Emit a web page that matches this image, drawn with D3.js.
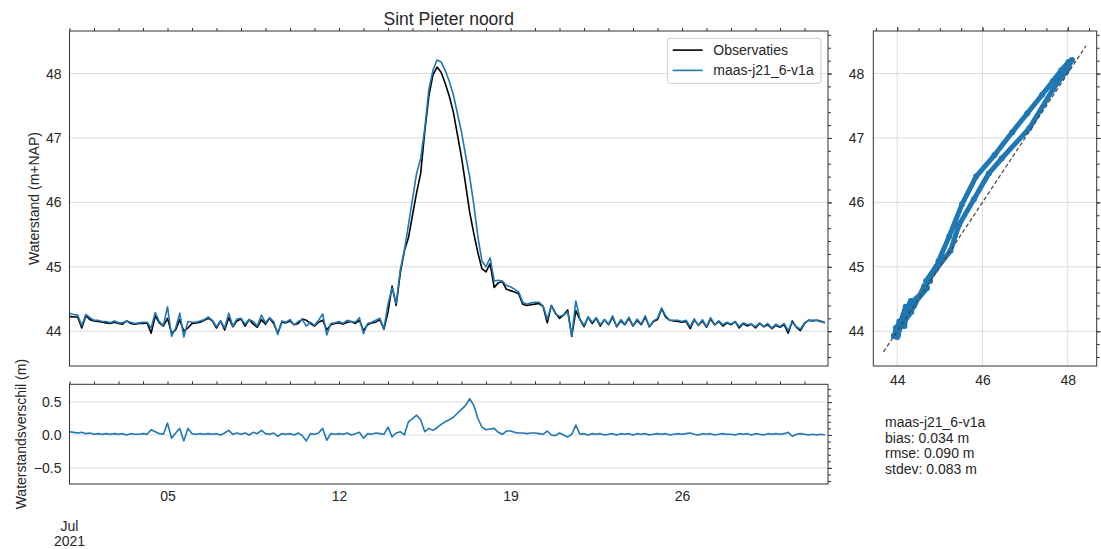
<!DOCTYPE html>
<html>
<head>
<meta charset="utf-8">
<script src="https://cdn.jsdelivr.net/npm/d3@7"></script>
<style>
  body { margin: 0; background: #fff; }
  svg { font-family: "Liberation Sans", Arial, sans-serif; }
</style>
</head>
<body>
<svg></svg>
<script>
/*
*  DATA
*/
let title = 'Sint Pieter noord'
let seriesNames = ['Observaties', 'maas-j21_6-v1a']
let startTime = new Date(2021, 6, 1)
let stepHours = 4

// waterlevel (m+NAP), one value every 4 hours from 1 July 00:00
let obs = [
  44.23, 44.22, 44.22, 44.05, 44.24, 44.18,
  44.16, 44.15, 44.14, 44.13, 44.12, 44.14,
  44.12, 44.11, 44.16, 44.12, 44.11, 44.12,
  44.12, 44.13, 43.97, 44.24, 44.13, 44.08,
  44.20, 43.97, 44.02, 44.18, 44.00, 44.05,
  44.12, 44.13, 44.14, 44.17, 44.20, 44.16,
  44.05, 44.16, 44.02, 44.21, 44.07, 44.16,
  44.19, 44.08, 44.18, 44.11, 44.06, 44.18,
  44.11, 44.20, 44.12, 43.97, 44.14, 44.13,
  44.16, 44.10, 44.12, 44.19, 44.17, 44.12,
  44.08, 44.14, 44.17, 44.02, 44.10, 44.12,
  44.13, 44.11, 44.14, 44.15, 44.12, 44.17,
  44.01, 44.10, 44.13, 44.14, 44.18, 44.03,
  44.30, 44.70, 44.40, 44.90, 45.25, 45.45,
  45.80, 46.15, 46.45, 47.10, 47.65, 47.98,
  48.10, 48.02, 47.85, 47.65, 47.40, 47.05,
  46.70, 46.28, 45.85, 45.52, 45.22, 44.97,
  44.92, 45.05, 44.68, 44.75, 44.77, 44.65,
  44.63, 44.61, 44.58, 44.42, 44.40, 44.41,
  44.42, 44.43, 44.38, 44.13, 44.40, 44.28,
  44.20, 44.25, 44.33, 43.92, 44.32, 44.18,
  44.07, 44.22, 44.12, 44.20, 44.08, 44.18,
  44.10, 44.22, 44.07, 44.16, 44.10, 44.20,
  44.08, 44.17, 44.10, 44.22, 44.07, 44.15,
  44.18, 44.35, 44.22, 44.17, 44.16, 44.15,
  44.14, 44.15, 44.04, 44.18, 44.09, 44.16,
  44.06, 44.19, 44.10, 44.15, 44.08, 44.13,
  44.10, 44.15, 44.05, 44.12, 44.08, 44.11,
  44.05, 44.12, 44.07, 44.10, 44.04, 44.09,
  44.06, 44.10, 43.97, 44.16, 44.06, 44.01,
  44.12, 44.17, 44.16, 44.17, 44.15, 44.13
]
let model = [
  44.28, 44.26, 44.25, 44.09, 44.26, 44.21,
  44.17, 44.17, 44.15, 44.15, 44.13, 44.16,
  44.13, 44.13, 44.16, 44.14, 44.12, 44.13,
  44.14, 44.14, 44.05, 44.29, 44.15, 44.09,
  44.38, 43.92, 44.05, 44.28, 43.91, 44.15,
  44.14, 44.14, 44.16, 44.18, 44.22, 44.17,
  44.07, 44.16, 44.05, 44.28, 44.08, 44.19,
  44.20, 44.11, 44.18, 44.15, 44.08, 44.25,
  44.13, 44.21, 44.15, 43.95, 44.16, 44.14,
  44.18, 44.10, 44.15, 44.18, 44.08, 44.14,
  44.09, 44.17, 44.27, 43.94, 44.12, 44.13,
  44.15, 44.12, 44.17, 44.15, 44.14, 44.21,
  43.96, 44.12, 44.14, 44.17, 44.20, 44.04,
  44.42, 44.67, 44.43, 44.95, 45.25, 45.65,
  46.05, 46.45, 46.68, 47.15, 47.75, 48.05,
  48.21, 48.18, 48.05, 47.88, 47.67, 47.38,
  47.09, 46.73, 46.40, 45.97, 45.47, 45.09,
  45.00, 45.14, 44.78, 44.79, 44.78, 44.71,
  44.69, 44.65, 44.61, 44.45, 44.42, 44.44,
  44.45, 44.45, 44.39, 44.19, 44.40, 44.27,
  44.23, 44.25, 44.30, 43.93, 44.47, 44.19,
  44.09, 44.22, 44.14, 44.21, 44.10, 44.18,
  44.11, 44.24, 44.07, 44.18, 44.11, 44.22,
  44.08, 44.19, 44.11, 44.24, 44.07, 44.16,
  44.20, 44.36, 44.24, 44.17, 44.17, 44.17,
  44.15, 44.17, 44.07, 44.19, 44.09, 44.18,
  44.07, 44.21, 44.10, 44.16, 44.10, 44.14,
  44.11, 44.15, 44.07, 44.13, 44.10, 44.11,
  44.07, 44.13, 44.07, 44.12, 44.05, 44.11,
  44.07, 44.12, 44.01, 44.14, 44.07, 44.03,
  44.13, 44.17, 44.17, 44.17, 44.16, 44.13
]

let levelTicks = [44, 45, 46, 47, 48]
let diffTicks = [-0.5, 0, 0.5]
let scatterTicks = [44, 46, 48]
let labelDays = [5, 12, 19, 26]
let oneToOne = [43.68, 48.43]
let statLines = ['maas-j21_6-v1a', 'bias: 0.034 m', 'rmse: 0.090 m', 'stdev: 0.083 m']

/*
*  SETUP
*/
let width = 1101,
    height = 549,
    blue = '#1f77b4',
    ink = '#262626',
    spine = '#333',
    gridColor = '#dcdcdc'

let svg = d3.select('svg').attr('width', width).attr('height', height)

let main = {left: 69.5, right: 828, top: 31, bottom: 366}
let lower = {left: 69.5, right: 828, top: 384.3, bottom: 484}
let side = {left: 873.3, right: 1096.7, top: 31, bottom: 366}

let rows = obs.map((o, i) => ({
  t: d3.timeHour.offset(startTime, i * stepHours),
  obs: o,
  model: model[i],
  diff: model[i] - o
}))

let x = d3.scaleTime().domain([startTime, new Date(2021, 6, 31, 23)]).range([main.left, main.right])
let y = d3.scaleLinear().domain([43.46, 48.66]).range([main.bottom, main.top])
let yDiff = d3.scaleLinear().domain([-0.745, 0.77]).range([lower.bottom, lower.top])
let sx = d3.scaleLinear().domain([43.44, 48.68]).range([side.left, side.right])

/*
*  RUN
*/
drawMain()
drawLower()
drawScatter()

/*
*  HELPERS
*/
function hGrid(scale, values, box){
  svg.append('g').selectAll('line').data(values).join('line')
    .attr('x1', box.left).attr('x2', box.right)
    .attr('y1', d => scale(d)).attr('y2', d => scale(d))
    .attr('stroke', gridColor).attr('stroke-width', 1)
}

function vGrid(scale, values, box){
  svg.append('g').selectAll('line').data(values).join('line')
    .attr('y1', box.top).attr('y2', box.bottom)
    .attr('x1', d => scale(d)).attr('x2', d => scale(d))
    .attr('stroke', gridColor).attr('stroke-width', 1)
}

function frame(box){
  svg.append('rect')
    .attr('x', box.left).attr('y', box.top)
    .attr('width', box.right - box.left).attr('height', box.bottom - box.top)
    .attr('fill', 'none').attr('stroke', spine).attr('stroke-width', 1)
}

// only tick marks, no labels
function marks(axis, transform){
  let g = svg.append('g').attr('transform', transform).call(axis.tickFormat(''))
  g.select('.domain').remove()
  g.selectAll('line').attr('stroke', spine)
  return g
}

// only labels, no tick marks
function labels(axis, transform){
  let g = svg.append('g').attr('transform', transform).call(axis.tickSize(0))
  g.select('.domain').remove()
  g.attr('font-size', 14).attr('font-family', '"Liberation Sans", Arial, sans-serif')
  g.selectAll('text').attr('fill', ink)
  return g
}

function yTitle(text, cx, cy){
  svg.append('text')
    .attr('transform', `translate(${cx},${cy}) rotate(-90)`)
    .attr('text-anchor', 'middle')
    .attr('font-size', 14).attr('fill', ink)
    .text(text)
}

function range(a, b, step){
  return d3.range(Math.round(a / step), Math.round(b / step) + 1).map(k => +(k * step).toFixed(3))
}

function drawMain(){
  hGrid(y, levelTicks, main)

  let line = key => d3.line().x(d => x(d.t)).y(d => y(d[key]))
  svg.append('path').datum(rows)
    .attr('d', line('obs')).attr('fill', 'none')
    .attr('stroke', '#000').attr('stroke-width', 1.6).attr('stroke-linejoin', 'round')
  svg.append('path').datum(rows)
    .attr('d', line('model')).attr('fill', 'none')
    .attr('stroke', blue).attr('stroke-width', 1.6).attr('stroke-linejoin', 'round')

  let days = d3.timeDay.range(startTime, x.domain()[1])
  marks(d3.axisTop(x).tickValues(days).tickSize(3), `translate(0,${main.top})`)
  marks(d3.axisRight(y).tickValues(range(43.6, 48.6, 0.2)).tickSize(3), `translate(${main.right},0)`)
  marks(d3.axisRight(y).tickValues(levelTicks).tickSize(4), `translate(${main.right},0)`)
  labels(d3.axisLeft(y).tickValues(levelTicks).tickPadding(8).tickFormat(d3.format('d')), `translate(${main.left},0)`)
  frame(main)

  yTitle('Waterstand (m+NAP)', 39, (main.top + main.bottom) / 2)

  svg.append('text')
    .attr('x', (main.left + main.right) / 2).attr('y', 25)
    .attr('text-anchor', 'middle').attr('font-size', 17.5).attr('fill', ink)
    .text(title)

  // legend
  let lg = svg.append('g').attr('transform', 'translate(667.3,38.3)')
  lg.append('rect').attr('width', 153.7).attr('height', 45).attr('rx', 3)
    .attr('fill', '#fff').attr('fill-opacity', 0.85).attr('stroke', '#ccc')
  let items = lg.selectAll('g.item').data(seriesNames).join('g')
    .attr('class', 'item')
    .attr('transform', (d, i) => `translate(0,${11.8 + i * 20.3})`)
  items.append('line').attr('x1', 5.4).attr('x2', 35.4)
    .attr('stroke', (d, i) => i ? blue : '#000').attr('stroke-width', 1.6)
  items.append('text').attr('x', 46).attr('dy', '0.35em')
    .attr('font-size', 14).attr('fill', ink).text(d => d)
}

function drawLower(){
  hGrid(yDiff, diffTicks, lower)

  svg.append('path').datum(rows)
    .attr('d', d3.line().x(d => x(d.t)).y(d => yDiff(d.diff)))
    .attr('fill', 'none').attr('stroke', blue).attr('stroke-width', 1.6).attr('stroke-linejoin', 'round')

  let days = d3.timeDay.range(startTime, x.domain()[1])
  marks(d3.axisTop(x).tickValues(days).tickSize(3), `translate(0,${lower.top})`)
  marks(d3.axisRight(yDiff).tickValues(range(-0.7, 0.7, 0.1)).tickSize(3), `translate(${lower.right},0)`)
  marks(d3.axisRight(yDiff).tickValues(diffTicks).tickSize(4), `translate(${lower.right},0)`)
  labels(d3.axisLeft(yDiff).tickValues(diffTicks).tickPadding(8).tickFormat(d3.format('.1f')), `translate(${lower.left},0)`)
  labels(d3.axisBottom(x).tickValues(labelDays.map(d => new Date(2021, 6, d)))
    .tickPadding(7).tickFormat(d3.timeFormat('%d')), `translate(0,${lower.bottom})`)
  frame(lower)

  yTitle('Waterstandsverschil (m)', 26, (lower.top + lower.bottom) / 2)

  // month / year offset under the first day, kept inside the page
  let off = svg.append('text').attr('text-anchor', 'middle').attr('font-size', 14).attr('fill', ink)
  off.append('tspan').attr('x', x(startTime)).attr('y', 531).text(d3.timeFormat('%b')(startTime))
  off.append('tspan').attr('x', x(startTime)).attr('y', 546).text(d3.timeFormat('%Y')(startTime))
}

function drawScatter(){
  hGrid(y, levelTicks, side)
  vGrid(sx, scatterTicks, side)

  svg.append('path').datum(rows)
    .attr('d', d3.line().x(d => sx(d.obs)).y(d => y(d.model)))
    .attr('fill', 'none').attr('stroke', blue).attr('stroke-width', 5)
    .attr('stroke-linejoin', 'round').attr('stroke-linecap', 'round')
  svg.append('g').selectAll('circle').data(rows).join('circle')
    .attr('cx', d => sx(d.obs)).attr('cy', d => y(d.model)).attr('r', 3)
    .attr('fill', blue)

  svg.append('line')
    .attr('x1', sx(oneToOne[0])).attr('y1', y(oneToOne[0]))
    .attr('x2', sx(oneToOne[1])).attr('y2', y(oneToOne[1]))
    .attr('stroke', '#444').attr('stroke-width', 1.2).attr('stroke-dasharray', '4,2.5')

  marks(d3.axisTop(sx).tickValues(range(43.5, 48.5, 0.5)).tickSize(3), `translate(0,${side.top})`)
  marks(d3.axisTop(sx).tickValues(scatterTicks).tickSize(4), `translate(0,${side.top})`)
  marks(d3.axisRight(y).tickValues(range(43.6, 48.6, 0.2)).tickSize(3), `translate(${side.right},0)`)
  marks(d3.axisRight(y).tickValues(levelTicks).tickSize(4), `translate(${side.right},0)`)
  labels(d3.axisLeft(y).tickValues(levelTicks).tickPadding(9).tickFormat(d3.format('d')), `translate(${side.left},0)`)
  labels(d3.axisBottom(sx).tickValues(scatterTicks).tickPadding(9).tickFormat(d3.format('d')), `translate(0,${side.bottom})`)
  frame(side)

  svg.append('text').attr('font-size', 14).attr('fill', ink)
    .selectAll('tspan').data(statLines).join('tspan')
    .attr('x', 885).attr('y', (d, i) => 427 + i * 15.7)
    .text(d => d)
}
</script>
</body>
</html>
